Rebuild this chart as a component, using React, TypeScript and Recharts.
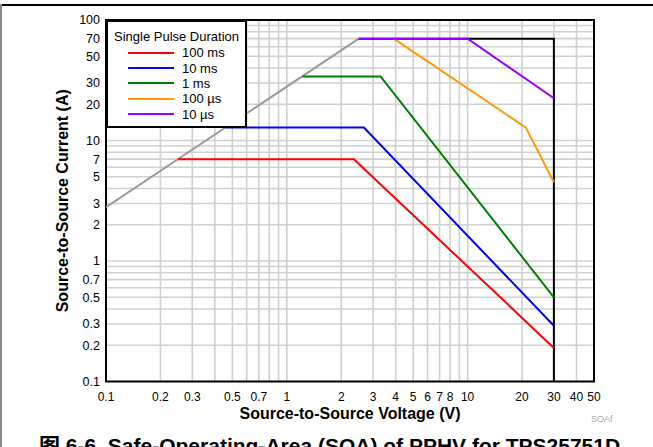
import {
  LineChart,
  Line,
  XAxis,
  YAxis,
  CartesianGrid,
  Legend,
  ReferenceArea,
  Label,
} from "recharts";

type Pt = { x: number; y: number };

const FONT = "Arial, 'Liberation Sans', 'Noto Sans CJK SC', sans-serif";

// tick labels on the log axes
const xTicks = [0.1, 0.2, 0.3, 0.5, 0.7, 1, 2, 3, 4, 5, 6, 7, 8, 10, 20, 30, 40, 50];
const yTicks = [0.1, 0.2, 0.3, 0.5, 0.7, 1, 2, 3, 5, 7, 10, 20, 30, 50, 70, 100];

// grid positions (log grid)
const xGrid = [0.2, 0.3, 0.4, 0.5, 0.6, 0.7, 0.8, 0.9, 1, 2, 3, 4, 5, 6, 7, 8, 9, 10, 20, 30, 40];
const yGrid = [
  0.2, 0.3, 0.4, 0.5, 0.6, 0.7, 0.8, 0.9, 1, 2, 3, 4, 5, 6, 7, 8, 9, 10, 20, 30, 40, 50, 60, 70,
  80, 90,
];

// limits
const rdsLimit: Pt[] = [
  { x: 0.1, y: 2.8 },
  { x: 2.5, y: 70 },
];
const envelope: Pt[] = [
  { x: 2.5, y: 70 },
  { x: 30, y: 70 },
  { x: 30, y: 0.1 },
];

// pulse curves
const pulse100ms: Pt[] = [
  { x: 0.25, y: 7 },
  { x: 2.35, y: 7 },
  { x: 30, y: 0.19 },
];
const pulse10ms: Pt[] = [
  { x: 0.457, y: 12.8 },
  { x: 2.67, y: 12.8 },
  { x: 30, y: 0.29 },
];
const pulse1ms: Pt[] = [
  { x: 1.22, y: 34 },
  { x: 3.3, y: 34 },
  { x: 30, y: 0.5 },
];
const pulse100us: Pt[] = [
  { x: 3.9, y: 70 },
  { x: 21, y: 12.8 },
  { x: 30, y: 4.5 },
];
const pulse10us: Pt[] = [
  { x: 2.5, y: 70 },
  { x: 10, y: 70 },
  { x: 30, y: 22.4 },
];

const series = [
  { name: "100 ms", data: pulse100ms, color: "#ff0000" },
  { name: "10 ms", data: pulse10ms, color: "#0000ff" },
  { name: "1 ms", data: pulse1ms, color: "#008000" },
  { name: "100 \u00b5s", data: pulse100us, color: "#ff9900" },
  { name: "10 \u00b5s", data: pulse10us, color: "#9900ff" },
];

function PulseLegend() {
  return (
    <div
      style={{
        width: 137,
        height: 104,
        border: "2px solid #000",
        background: "#fff",
        fontFamily: FONT,
        fontSize: 13,
        color: "#000",
        boxSizing: "content-box",
      }}
    >
      <div style={{ textAlign: "center", marginTop: 7, lineHeight: "16px" }}>
        Single Pulse Duration
      </div>
      {series.map((s) => (
        <div
          key={s.name}
          style={{ display: "flex", alignItems: "center", height: 15.4, marginLeft: 20 }}
        >
          <div style={{ width: 46, height: 2, background: s.color, marginRight: 8 }} />
          <span>{s.name}</span>
        </div>
      ))}
    </div>
  );
}

export default function App() {
  return (
    <div
      style={{
        position: "absolute",
        left: 0,
        top: 0,
        width: 653,
        height: 447,
        overflow: "hidden",
        background: "#fff",
        fontFamily: FONT,
      }}
    >
      <div style={{ position: "absolute", left: 0, top: 4, width: 653, height: 1.5, background: "#000" }} />
      <div style={{ position: "absolute", left: 0, top: 4, width: 1.5, height: 443, background: "#888" }} />

      <LineChart
        width={653}
        height={447}
        margin={{ top: 20, right: 59, bottom: 25.5, left: 56 }}
        style={{ position: "absolute", left: 0, top: 0 }}
      >
        <CartesianGrid
          stroke="#d0d0d0"
          strokeWidth={1.6}
          verticalValues={xGrid}
          horizontalValues={yGrid}
        />
        <XAxis
          dataKey="x"
          type="number"
          scale="log"
          domain={[0.1, 50]}
          allowDataOverflow
          ticks={xTicks}
          interval={0}
          height={40}
          tickSize={0}
          tickMargin={11}
          axisLine={false}
          tick={{ fill: "#000", fontSize: 12, fontFamily: FONT }}
        >
          <Label
            value="Source-to-Source Voltage (V)"
            position="center"
            dy={11.5}
            style={{ fontWeight: "bold", fontSize: 16, fill: "#000", fontFamily: FONT }}
          />
        </XAxis>
        <YAxis
          dataKey="y"
          type="number"
          scale="log"
          domain={[0.1, 100]}
          allowDataOverflow
          ticks={yTicks}
          interval={0}
          width={50}
          tickSize={0}
          tickMargin={6}
          axisLine={false}
          tick={{ fill: "#000", fontSize: 12.5, fontFamily: FONT }}
        >
          <Label
            value="Source-to-Source Current (A)"
            position="center"
            angle={-90}
            dx={-19}
            style={{ fontWeight: "bold", fontSize: 16, fill: "#000", fontFamily: FONT }}
          />
        </YAxis>
        <ReferenceArea
          x1={0.1}
          x2={50}
          y1={0.1}
          y2={100}
          fill="none"
          stroke="#000"
          strokeWidth={2}
          fillOpacity={0}
        />
        <Line
          data={rdsLimit}
          dataKey="y"
          stroke="#999999"
          strokeWidth={2}
          dot={false}
          type="linear"
          isAnimationActive={false}
          legendType="none"
        />
        <Line
          data={envelope}
          dataKey="y"
          stroke="#000"
          strokeWidth={2}
          dot={false}
          type="linear"
          isAnimationActive={false}
          legendType="none"
        />
        {series.map((s) => (
          <Line
            key={s.name}
            name={s.name}
            data={s.data}
            dataKey="y"
            stroke={s.color}
            strokeWidth={2}
            dot={false}
            type="linear"
            isAnimationActive={false}
          />
        ))}
        <Legend
          layout="horizontal"
          verticalAlign="middle"
          align="center"
          content={() => <PulseLegend />}
          wrapperStyle={{ left: 106, top: 20, width: 141, height: 108 }}
        />
      </LineChart>

      <div
        style={{
          position: "absolute",
          left: 591,
          top: 414,
          fontSize: 9,
          color: "#aaa",
          lineHeight: "11px",
        }}
      >
        SOAf
      </div>
      <div
        style={{
          position: "absolute",
          left: 39,
          top: 435,
          fontSize: 21,
          fontWeight: "bold",
          whiteSpace: "nowrap",
          lineHeight: "21px",
          color: "#000",
        }}
      >
        图 6-6. Safe-Operating-Area (SOA) of PPHV for TPS25751D
      </div>
    </div>
  );
}
